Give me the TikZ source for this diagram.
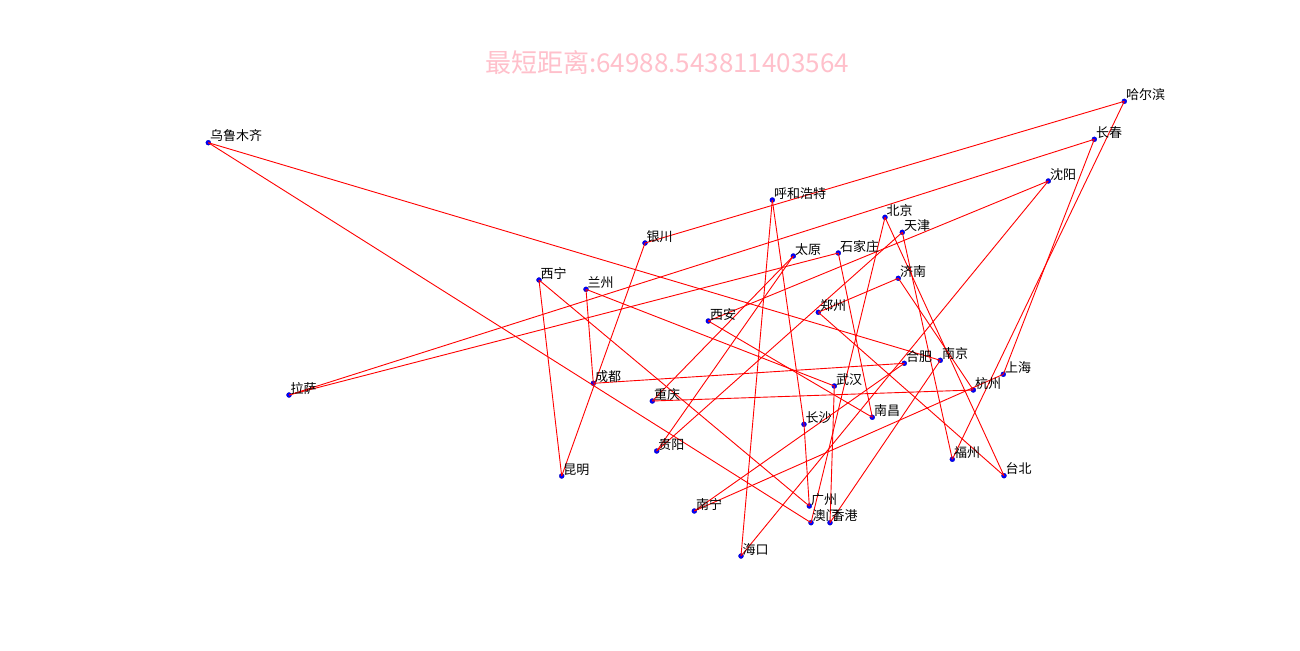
\documentclass[tikz,border=0pt]{standalone}
\usepackage{fontspec}
\newfontfamily\cjk{Noto Sans CJK SC}
\definecolor{titlepink}{RGB}{255,192,203}
\begin{document}
\begin{tikzpicture}[x=1pt,y=-1pt,
  dot/.style={circle,fill=blue,draw=blue!70!black,line width=0.3pt,minimum size=5pt,inner sep=0pt},
  edge/.style={red,line width=0.9pt},
  lab/.style={anchor=south west,inner sep=0pt,font=\cjk\fontsize{13}{15}\selectfont,text=black,xshift=1.5pt,yshift=0.5pt},
  ttl/.style={font=\cjk\fontsize{26}{30}\selectfont,text=titlepink,inner sep=0pt}]
\fill[white] (0,0) rectangle (1300,650);
\useasboundingbox (0,0) rectangle (1300,650);
\node[ttl] (title) at (667,63) {最短距离:64988.543811403564};
% cities
\node[dot] (hrb) at (1124.3,101.3) {};
\node[dot] (cc) at (1094.3,139.3) {};
\node[dot] (sy) at (1048.3,181) {};
\node[dot] (wlmq) at (208.3,142.7) {};
\node[dot] (ls) at (289,395) {};
\node[dot] (xn) at (539,280) {};
\node[dot] (lz) at (586,289.3) {};
\node[dot] (km) at (561.7,476) {};
\node[dot] (hhht) at (772.3,200) {};
\node[dot] (bj) at (885,217.3) {};
\node[dot] (tj) at (902.3,232.3) {};
\node[dot] (ty) at (793.3,256) {};
\node[dot] (sjz) at (838.3,253) {};
\node[dot] (jn) at (898.3,278.3) {};
\node[dot] (zz) at (818.3,312.3) {};
\node[dot] (yc) at (645,243) {};
\node[dot] (xa) at (708.3,321) {};
\node[dot] (cd) at (593.3,383.3) {};
\node[dot] (cq) at (652.3,401) {};
\node[dot] (hf) at (904.3,363.3) {};
\node[dot] (nj) at (940.3,360.3) {};
\node[dot] (sh) at (1003.3,374.3) {};
\node[dot] (wh) at (834.3,386) {};
\node[dot] (hz) at (973.3,390) {};
\node[dot] (nc) at (872.3,417.3) {};
\node[dot] (cs) at (804,424.3) {};
\node[dot] (fz) at (952.3,459.3) {};
\node[dot] (tb) at (1004,475.7) {};
\node[dot] (gy) at (656.7,451) {};
\node[dot] (nn) at (694.3,511) {};
\node[dot] (gz) at (809.3,506) {};
\node[dot] (am) at (811,522.7) {};
\node[dot] (xg) at (830,522.7) {};
\node[dot] (hk) at (741,556) {};
% tour
\foreach \a/\b in {hrb/yc,yc/km,km/xn,xn/gz,gz/cs,cs/hhht,hhht/hk,hk/sy,sy/xa,xa/nc,nc/sjz,sjz/ls,ls/cc,cc/sh,sh/nn,nn/hf,hf/cd,cd/lz,lz/wh,wh/xg,xg/nj,nj/wlmq,wlmq/am,am/bj,bj/tb,tb/zz,zz/jn,jn/hz,hz/cq,cq/ty,ty/gy,gy/tj,tj/fz,fz/hrb}
  \draw[edge] (\a.center) -- (\b.center);
% labels
\node[lab] (l-hrb) at (hrb) {哈尔滨};
\node[lab] (l-cc) at (cc) {长春};
\node[lab] (l-sy) at (sy) {沈阳};
\node[lab] (l-wlmq) at (wlmq) {乌鲁木齐};
\node[lab] (l-ls) at (ls) {拉萨};
\node[lab] (l-xn) at (xn) {西宁};
\node[lab] (l-lz) at (lz) {兰州};
\node[lab] (l-km) at (km) {昆明};
\node[lab] (l-hhht) at (hhht) {呼和浩特};
\node[lab] (l-bj) at (bj) {北京};
\node[lab] (l-tj) at (tj) {天津};
\node[lab] (l-ty) at (ty) {太原};
\node[lab] (l-sjz) at (sjz) {石家庄};
\node[lab] (l-jn) at (jn) {济南};
\node[lab] (l-zz) at (zz) {郑州};
\node[lab] (l-yc) at (yc) {银川};
\node[lab] (l-xa) at (xa) {西安};
\node[lab] (l-cd) at (cd) {成都};
\node[lab] (l-cq) at (cq) {重庆};
\node[lab] (l-hf) at (hf) {合肥};
\node[lab] (l-nj) at (nj) {南京};
\node[lab] (l-sh) at (sh) {上海};
\node[lab] (l-wh) at (wh) {武汉};
\node[lab] (l-hz) at (hz) {杭州};
\node[lab] (l-nc) at (nc) {南昌};
\node[lab] (l-cs) at (cs) {长沙};
\node[lab] (l-fz) at (fz) {福州};
\node[lab] (l-tb) at (tb) {台北};
\node[lab] (l-gy) at (gy) {贵阳};
\node[lab] (l-nn) at (nn) {南宁};
\node[lab] (l-gz) at (gz) {广州};
\node[lab] (l-am) at (am) {澳门};
\node[lab] (l-xg) at (xg) {香港};
\node[lab] (l-hk) at (hk) {海口};
\end{tikzpicture}
\end{document}
